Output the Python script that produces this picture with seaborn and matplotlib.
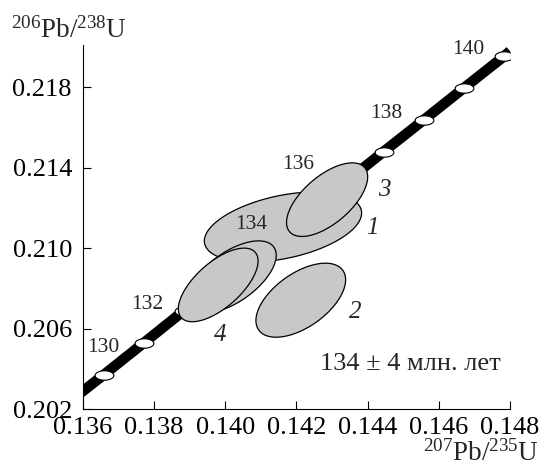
import numpy as np
import pandas as pd
import matplotlib
matplotlib.use("Agg")
import matplotlib.pyplot as plt
from matplotlib.path import Path
import seaborn as sns

# concordia ages (Ma) and their positions
ages = [130, 131, 132, 133, 134, 135, 136, 137, 138, 139, 140]
age_x = [0.13659, 0.13771, 0.13883, 0.13995, 0.14108, 0.14220,
         0.14333, 0.14445, 0.14558, 0.14671, 0.14784]
age_y = [0.20371, 0.20529, 0.20688, 0.20846, 0.21004, 0.21163,
         0.21321, 0.21480, 0.21638, 0.21797, 0.21955]
labeled_ages = [130, 132, 134, 136, 138, 140]

# the band runs a little past the first and last age marks
band_x = [0.1355] + age_x + [0.1480]
band_y = [0.2022] + age_y + [0.2198]

# error ellipses (drawing order): centre, half-extents, correlation
ell_names = ["1", "2", "3", "", "4"]
ell_x = [0.14162, 0.14212, 0.14286, 0.14019, 0.13980]
ell_y = [0.21105, 0.20741, 0.21241, 0.20857, 0.20817]
ell_sx = [0.00221, 0.00126, 0.00114, 0.00124, 0.00112]
ell_sy = [0.00174, 0.00184, 0.00183, 0.00179, 0.00183]
ell_rho = [0.40, 0.55, 0.62, 0.60, 0.65]

x_ticks = [0.136, 0.138, 0.140, 0.142, 0.144, 0.146, 0.148]
y_ticks = [0.202, 0.206, 0.210, 0.214, 0.218]
age_text = "134 ± 4 млн. лет"

# --- layout only ---
age_label_pos = [(0.13656, 0.20508), (0.13781, 0.20722), (0.14074, 0.21115),
                 (0.14205, 0.21414), (0.14451, 0.21671), (0.14684, 0.21986)]
ell_label_pos = {"1": (0.14412, 0.21100), "2": (0.14364, 0.20683),
                 "3": (0.14448, 0.21290), "4": (0.13985, 0.20568)}


def main():
    sns.set_theme(style="ticks")
    plt.rcParams["font.family"] = ["Liberation Serif", "DejaVu Serif"]
    plt.rcParams["mathtext.fontset"] = "custom"
    plt.rcParams["mathtext.rm"] = "Liberation Serif"
    plt.rcParams["mathtext.it"] = "Liberation Serif:italic"

    fig = plt.figure(figsize=(5.44, 4.67), dpi=100)
    ax = fig.add_axes([83 / 544, 58 / 467, 427 / 544, 364 / 467])

    band_df = pd.DataFrame({"x": band_x, "y": band_y})
    sns.lineplot(data=band_df, x="x", y="y", sort=False, estimator=None,
                 color="black", lw=7.5, solid_capstyle="butt", zorder=1, ax=ax)

    th = np.linspace(0, 2 * np.pi, 60)
    oval = Path(np.column_stack([np.cos(th), 0.5 * np.sin(th)]), closed=True)
    sns.scatterplot(x=age_x, y=age_y, marker=oval, s=13.5 ** 2, color="white",
                    edgecolor="black", linewidth=0.8, zorder=2, ax=ax)

    t = np.linspace(0, 2 * np.pi, 300)
    for i, name in enumerate(ell_names):
        ex = ell_x[i] + ell_sx[i] * np.cos(t)
        ey = ell_y[i] + ell_sy[i] * (ell_rho[i] * np.cos(t)
                                     + np.sqrt(1 - ell_rho[i] ** 2) * np.sin(t))
        ax.fill(ex, ey, facecolor="#c7c8c7", edgecolor="black", lw=0.9, zorder=3 + i)
        if name:
            lx, ly = ell_label_pos[name]
            ax.text(lx, ly, name, fontsize=18, style="italic", ha="center",
                    va="center", zorder=10)

    for age, (lx, ly) in zip(labeled_ages, age_label_pos):
        ax.text(lx, ly, str(age), fontsize=15.5, ha="center", va="center", zorder=10)

    ax.text(0.14519, 0.20424, age_text, fontsize=19, ha="center", va="center")

    ax.set_xlim(0.136, 0.148)
    ax.set_ylim(0.202, 0.2201)
    ax.set_xticks(x_ticks)
    ax.set_xticklabels([f"{v:.3f}" for v in x_ticks])
    ax.set_yticks(y_ticks)
    ax.set_yticklabels([f"{v:.3f}" for v in y_ticks])
    ax.tick_params(direction="in", length=6, width=0.8, labelsize=19, colors="black")
    ax.tick_params(axis="x", pad=6)
    ax.tick_params(axis="y", pad=8)
    for s in ["top", "right"]:
        ax.spines[s].set_visible(False)
    for s in ["left", "bottom"]:
        ax.spines[s].set_linewidth(0.8)
        ax.spines[s].set_color("black")
    ax.set_xlabel("")
    ax.set_ylabel("")

    fig.text(11 / 544, 1 - 38 / 467, r"$^{206}$Pb/$^{238}$U", fontsize=19.5,
             ha="left", va="baseline")
    fig.text(539 / 544, 1 - 461 / 467, r"$^{207}$Pb/$^{235}$U", fontsize=19.5,
             ha="right", va="baseline")

    fig.savefig("out.png", dpi=100)
    plt.close(fig)


if __name__ == "__main__":
    main()
